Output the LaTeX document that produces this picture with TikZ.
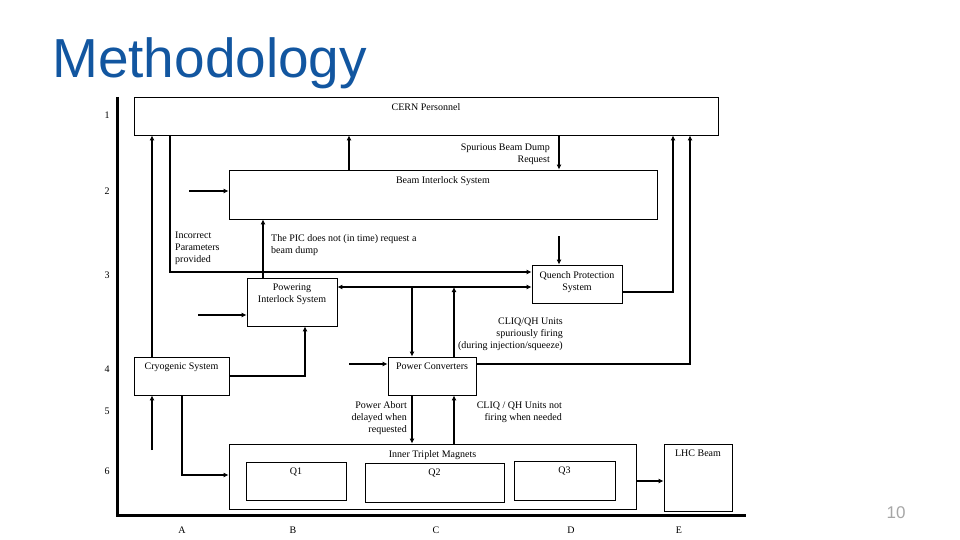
\documentclass[tikz,border=0pt]{standalone}
\usepackage{fontspec}
\setmainfont{Liberation Serif}
\newfontfamily\titlefont{Liberation Sans}
\usetikzlibrary{arrows.meta,positioning}
\definecolor{titleblue}{RGB}{18,86,160}

\begin{document}
\begin{tikzpicture}[x=1pt,y=-1pt,font=\fontsize{10}{12}\selectfont,
	box/.style={draw,line width=0.8pt,inner sep=0pt},
	txt/.style={inner sep=0pt},
	boxtitle/.style={inner sep=0pt,below=6.5pt of #1.north},
	arr/.style={line width=1.7pt,-{Latex[length=5pt,width=5pt]}}]
	\useasboundingbox (0,0) rectangle (960,540);

	%title
	\node[anchor=base west,inner sep=0pt,font=\titlefont\fontsize{55}{60}\selectfont,text=titleblue] (title) at (52,78) {Methodology};
	\node[font=\titlefont\fontsize{17}{20}\selectfont,text=black!35] (pagenum) at (896,513) {10};

	%axes
	\draw[line width=3pt] (117,97)--(117,515)--(746,515);
	\node[txt] (lvl1) at (107,115) {1};
	\node[txt] (lvl2) at (107,191) {2};
	\node[txt] (lvl3) at (107,275) {3};
	\node[txt] (lvl4) at (107,369) {4};
	\node[txt] (lvl5) at (107,411) {5};
	\node[txt] (lvl6) at (107,471) {6};
	%
	\node[txt] (colA) at (182,530) {A};
	\node[txt] (colB) at (293,530) {B};
	\node[txt] (colC) at (436,530) {C};
	\node[txt] (colD) at (571,530) {D};
	\node[txt] (colE) at (679,530) {E};

	%boxes
	\node[box,minimum width=584,minimum height=38] (cern) at (426,116) {};
		\node[boxtitle=cern] (cernT) {CERN Personnel};
	\node[box,minimum width=428,minimum height=49] (bis) at (443,194.5) {};
		\node[boxtitle=bis] (bisT) {Beam Interlock System};
	\node[box,minimum width=90,minimum height=48] (pis) at (292,302) {};
		\node[boxtitle=pis,align=center] (pisT) {Powering\\Interlock System};
	\node[box,minimum width=90,minimum height=38] (qps) at (577,284) {};
		\node[boxtitle=qps,align=center] (qpsT) {Quench Protection\\System};
	\node[box,minimum width=95,minimum height=38] (cryo) at (181.5,376) {};
		\node[boxtitle=cryo] (cryoT) {Cryogenic System};
	\node[box,minimum width=88,minimum height=38] (pc) at (432,376) {};
		\node[boxtitle=pc] (pcT) {Power Converters};
	\node[box,minimum width=407,minimum height=65] (itm) at (432.5,476.5) {};
		\node[boxtitle=itm] (itmT) {Inner Triplet Magnets};
	\node[box,minimum width=100,minimum height=38] (q1) at (296,481) {};
		\node[boxtitle=q1] (q1T) {Q1};
	\node[box,minimum width=139,minimum height=39] (q2) at (434.5,482.5) {};
		\node[boxtitle=q2] (q2T) {Q2};
	\node[box,minimum width=101,minimum height=39] (q3) at (564.5,480.5) {};
		\node[boxtitle=q3] (q3T) {Q3};
	\node[box,minimum width=68,minimum height=67] (lhc) at (698,477.5) {};
		\node[boxtitle=lhc] (lhcT) {LHC Beam};

	%columns and rows of the connectors
	\coordinate (x1) at (152,0);
	\coordinate (x2) at (170,0);
	\coordinate (x3) at (182,0);
	\coordinate (x4) at (263,0);
	\coordinate (x5) at (305,0);
	\coordinate (x6) at (349,0);
	\coordinate (x7) at (412,0);
	\coordinate (x8) at (454,0);
	\coordinate (x9) at (559,0);
	\coordinate (x10) at (673,0);
	\coordinate (x11) at (690,0);
	%
	\coordinate (y1) at (0,272);
	\coordinate (y2) at (0,292);
	\coordinate (y3) at (0,364);
	\coordinate (y4) at (0,376);
	\coordinate (y5) at (0,475);
	\coordinate (y6) at (0,481);
	\coordinate (jn) at (412,287);

	%free ends
	\coordinate (inBis) at (189,191);
	\coordinate (inPis) at (198,315);
	\coordinate (inQps) at (559,236);
	\coordinate (inPc) at (349,364);
	\coordinate (inCryo) at (152,450);

	%arrows up to CERN Personnel
	\draw[arr] (cryo.north -| x1)--(cern.south -| x1);
	\draw[arr] (bis.north -| x6)--(cern.south -| x6);
	\draw[arr] (qps.east |- y2)-|(cern.south -| x10);
	\draw[arr] (pc.east |- y3)-|(cern.south -| x11);
	%
	\draw[arr] (cern.south -| x9)--(bis.north -| x9);
	\node[txt,align=right,anchor=north east] (spurious) at (550,143.5) {Spurious Beam Dump\\Request};
	\draw[arr] (cern.south -| x2)|-(qps.west |- y1);
	\node[txt,align=left,anchor=north west] (incorrect) at (175,231.5) {Incorrect\\Parameters\\provided};

	%beam interlock & powering interlock
	\draw[arr] (inBis)--(inBis -| bis.west);
	\draw[arr] (pis.north -| x4)--(bis.south -| x4);
	\node[txt,align=left,anchor=north west] (pic) at (271,234.5) {The PIC does not (in time) request a\\beam dump};
	\draw[arr] (inPis)--(inPis -| pis.west);
	\draw[arr] (cryo.east |- y4)-|(pis.south -| x5);

	%quench protection & power converters
	\draw[arr] (inQps)--(qps.north -| inQps);
	\draw[arr] (jn)--(pis.east |- jn);
	\draw[arr] (jn)--(qps.west |- jn);
	\draw[arr] (jn)--(pc.north -| jn);
	\draw[arr] (pc.north -| x8)--(jn -| x8);
	\node[txt,align=right,anchor=north east] (spfiring) at (563,317.5) {CLIQ/QH Units\\spuriously firing\\(during injection/squeeze)};
	\draw[arr] (inPc)--(inPc -| pc.west);

	%down to the magnets
	\draw[arr] (inCryo)--(cryo.south -| inCryo);
	\draw[arr] (cryo.south -| x3)|-(itm.west |- y5);
	\draw[arr] (pc.south -| x7)--(itm.north -| x7);
	\node[txt,align=right,anchor=north east] (abort) at (407,401.5) {Power Abort\\delayed when\\requested};
	\draw[arr] (itm.north -| x8)--(pc.south -| x8);
	\node[txt,align=right,anchor=north east] (notfiring) at (562,401.5) {CLIQ / QH Units not\\firing when needed};
	\draw[arr] (itm.east |- y6)--(lhc.west |- y6);
\end{tikzpicture}
\end{document}
